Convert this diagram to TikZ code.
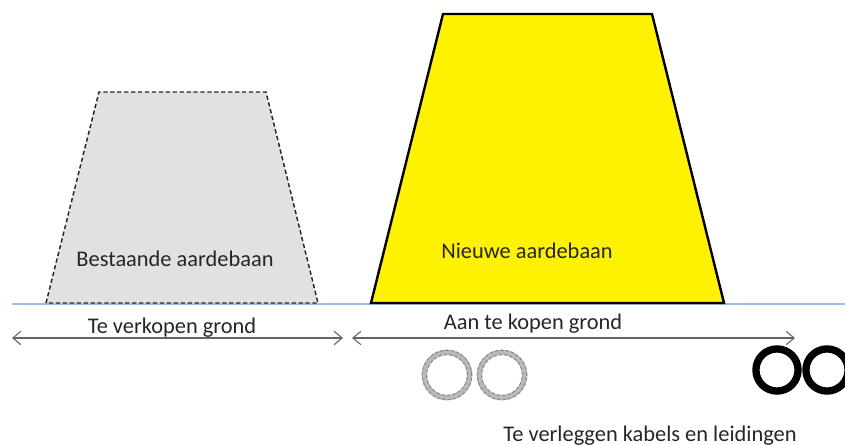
\documentclass[tikz,border=0pt]{standalone}
\usepackage{fontspec}
\setmainfont{Carlito}
\usetikzlibrary{arrows.meta}
\definecolor{basecol}{RGB}{160,190,230}
\definecolor{arrcol}{RGB}{100,100,100}
\definecolor{oldfill}{RGB}{225,225,225}
\definecolor{ringfill}{RGB}{185,185,185}
\definecolor{ringedge}{RGB}{140,140,140}
\tikzset{
  lbl/.style={font=\fontsize{16.8}{20}\selectfont, text=black!85, inner sep=0pt, anchor=base},
  dimarrow/.style={draw=arrcol, line width=0.8pt, {Straight Barb[length=6pt,width=10pt]}-{Straight Barb[length=6pt,width=10pt]}},
  oldring/.style={draw=ringfill, line width=4pt},
  oldedge/.style={draw=ringedge, line width=0.8pt, dash pattern=on 2.5pt off 1.5pt},
  newring/.style={draw=black, line width=5.5pt}
}
\begin{document}
\begin{tikzpicture}[x=0.75pt,y=-0.75pt]
\useasboundingbox (0,0) rectangle (845,445);
% baseline
\draw[basecol, line width=0.8pt] (12,304) -- (845,304);
% existing embankment
\draw[fill=oldfill, draw=black!85, line width=1.1pt, dash pattern=on 3.2pt off 2pt] (46,303) -- (99,92) -- (266,92) -- (318,303) -- cycle;
% new embankment
\draw[fill=yellow, draw=black, line width=1.8pt, line join=miter] (371,303) -- (443,14) -- (652,14) -- (724,303) -- cycle;
\node[lbl] (bestaand) at (175,267) {Bestaande aardebaan};
\node[lbl] (nieuw) at (527,258) {Nieuwe aardebaan};
% dimension arrows
\coordinate (a1) at (12,338);
\coordinate (a2) at (343,338);
\coordinate (b1) at (352,338);
\coordinate (b2) at (795,338);
\draw[dimarrow] (a1) -- (a2);
\draw[dimarrow] (b1) -- (b2);
\node[lbl] (verkopen) at (172,333) {Te verkopen grond};
\node[lbl] (kopen) at (533,329) {Aan te kopen grond};
% old cables
\foreach \cx/\nm in {447/c1,502/c2}{
  \coordinate (\nm) at (\cx,375);
  \draw[oldring] (\nm) circle[radius=17pt];
  \draw[oldedge] (\nm) circle[radius=18.6pt];
  \draw[oldedge] (\nm) circle[radius=15.3pt];
}
% new cables
\coordinate (n1) at (777,370);
\coordinate (n2) at (827,370);
\draw[newring] (n1) circle[radius=15.8pt];
\draw[newring] (n2) circle[radius=15.8pt];
\node[lbl] (kabels) at (650,441) {Te verleggen kabels en leidingen};
\end{tikzpicture}
\end{document}
